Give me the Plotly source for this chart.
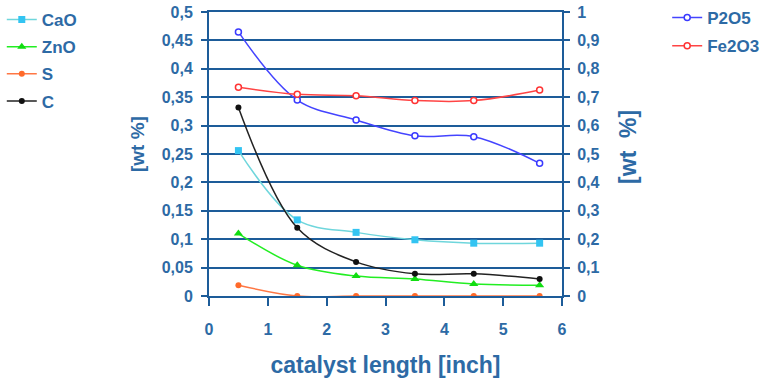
import plotly.graph_objects as go

x_vals = [0.5, 1.5, 2.5, 3.5, 4.5, 5.62]
cao = [0.256, 0.134, 0.112, 0.099, 0.093, 0.093]
zno = [0.110, 0.054, 0.035, 0.030, 0.021, 0.019]
s_vals = [0.019, 0.0, 0.0, 0.0, 0.0, 0.0]
c_vals = [0.332, 0.120, 0.060, 0.039, 0.039, 0.030]
p2o5 = [0.93, 0.69, 0.62, 0.564, 0.561, 0.467]
fe2o3 = [0.735, 0.710, 0.705, 0.688, 0.688, 0.725]

left_ticks = [0, 0.05, 0.1, 0.15, 0.2, 0.25, 0.3, 0.35, 0.4, 0.45, 0.5]
left_labels = ["0", "0,05", "0,1", "0,15", "0,2", "0,25", "0,3", "0,35", "0,4", "0,45", "0,5"]
right_ticks = [0, 0.1, 0.2, 0.3, 0.4, 0.5, 0.6, 0.7, 0.8, 0.9, 1]
right_labels = ["0", "0,1", "0,2", "0,3", "0,4", "0,5", "0,6", "0,7", "0,8", "0,9", "1"]
x_ticks = [0, 1, 2, 3, 4, 5, 6]
x_title = "catalyst length [inch]"
left_title = "[wt %]"
right_title = "[wt\u00a0\u00a0%]"

TXT = "#2d6aa5"
AX = "#1d5c99"
FONT = "Liberation Sans"

fig = go.Figure()

def add(name, y, color, lcolor, symbol, size, yaxis, legend, group, open_=False):
    fig.add_trace(go.Scatter(
        x=x_vals, y=y, name=name, mode="lines+markers",
        line=dict(color=lcolor, width=1.5, shape="spline", smoothing=1.0),
        marker=dict(color=color if not open_ else "white", symbol=symbol, size=size,
                    line=dict(color=color, width=1.5 if open_ else 0)),
        yaxis=yaxis, legend=legend, legendgroup=group,
    ))

add("CaO", cao, "#33c4f2", "#6fd6dc", "square", 7, "y", "legend", "a")
add("ZnO", zno, "#11dd11", "#22ee22", "triangle-up", 8, "y", "legend", "b")
add("S", s_vals, "#ff6a2a", "#ff7744", "circle", 6, "y", "legend", "c")
add("C", c_vals, "#111111", "#222222", "circle", 6, "y", "legend", "d")
add("P2O5", p2o5, "#3a3aff", "#4444ff", "circle", 6, "y2", "legend2", "e", open_=True)
add("Fe2O3", fe2o3, "#ff3333", "#ff4444", "circle", 6, "y2", "legend2", "f", open_=True)

fig.update_layout(
    width=766, height=378,
    margin=dict(l=209, r=204, t=12, b=82, autoexpand=False),
    paper_bgcolor="white", plot_bgcolor="white",
    font=dict(family=FONT, color=TXT, size=16, weight="bold"),
    showlegend=True,
    xaxis=dict(
        range=[0, 6], tickvals=x_ticks, ticktext=[str(v) for v in x_ticks],
        showgrid=False, showline=True, mirror=True, linecolor=AX, linewidth=2,
        ticks="outside", ticklen=8, tickcolor=AX, tickwidth=2,
        tickfont=dict(family=FONT, size=16, color=TXT, weight="bold"),
        ticklabelstandoff=10, automargin=False, ticklabeloverflow="allow",
        title=dict(text=x_title, standoff=25,
                   font=dict(family=FONT, size=23, color=TXT, weight="bold")),
        zeroline=False,
    ),
    yaxis=dict(
        range=[0, 0.5], tickvals=left_ticks, ticktext=left_labels,
        showgrid=True, gridcolor=AX, gridwidth=2,
        showline=True, linecolor=AX, linewidth=2,
        ticks="outside", ticklen=6, tickcolor=AX, tickwidth=2,
        tickfont=dict(family=FONT, size=16, color=TXT, weight="bold"),
        ticklabelstandoff=5, automargin=False, ticklabeloverflow="allow",
        zeroline=False,
    ),
    yaxis2=dict(
        range=[0, 1], tickvals=right_ticks, ticktext=right_labels,
        overlaying="y", side="right", showgrid=False,
        showline=True, linecolor=AX, linewidth=2,
        ticks="outside", ticklen=6, tickcolor=AX, tickwidth=2,
        tickfont=dict(family=FONT, size=16, color=TXT, weight="bold"),
        ticklabelstandoff=4, automargin=False, ticklabeloverflow="allow",
        zeroline=False,
    ),
    legend=dict(
        xref="paper", yref="paper", x=-0.587, y=1.035, xanchor="left", yanchor="top",
        bgcolor="rgba(0,0,0,0)", traceorder="grouped", tracegroupgap=2,
        font=dict(family=FONT, size=17, color=TXT, weight="bold"),
        itemwidth=30,
    ),
    legend2=dict(
        xref="paper", yref="paper", x=1.298, y=1.042, xanchor="left", yanchor="top",
        bgcolor="rgba(0,0,0,0)", traceorder="grouped", tracegroupgap=3,
        font=dict(family=FONT, size=17, color=TXT, weight="bold"),
        itemwidth=30,
    ),
    annotations=[
        dict(text=left_title, xref="paper", yref="paper", x=-0.204, y=0.535,
             xanchor="center", yanchor="middle", textangle=-90, showarrow=False,
             font=dict(family=FONT, size=19, color=TXT, weight="bold")),
        dict(text=right_title, xref="paper", yref="paper", x=1.187, y=0.525,
             xanchor="center", yanchor="middle", textangle=-90, showarrow=False,
             font=dict(family=FONT, size=23, color=TXT, weight="bold")),
    ],
)

fig.write_html(
    "out.html",
    config={"displayModeBar": False},
    post_script="document.body.style.margin='0';document.body.style.padding='0';"
                "document.documentElement.style.overflow='hidden';",
)
